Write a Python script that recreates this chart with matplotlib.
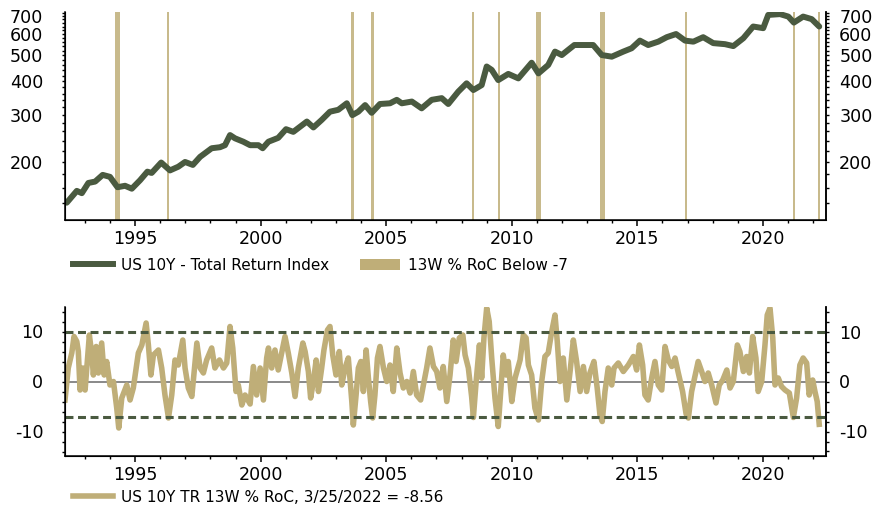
import matplotlib.pyplot as plt
from matplotlib.lines import Line2D
from matplotlib.patches import Patch
from matplotlib.ticker import FixedLocator, MultipleLocator, NullFormatter, FormatStrFormatter

plt.rcParams['font.family'] = ['DejaVu Sans']

GREEN = '#4a5a40'
TAN = '#bfae78'

# US 10Y total return index
tr_years = [1992.28, 1992.68, 1992.88, 1993.14, 1993.41, 1993.71, 1994.00, 1994.30, 1994.60, 1994.87,
            1995.20, 1995.49, 1995.66, 1996.04, 1996.39, 1996.72, 1996.99, 1997.30, 1997.59, 1998.05,
            1998.38, 1998.58, 1998.78, 1998.98, 1999.31, 1999.58, 1999.91, 2000.08, 2000.31, 2000.70,
            2001.01, 2001.30, 2001.84, 2002.10, 2002.43, 2002.76, 2003.09, 2003.43, 2003.65, 2003.89,
            2004.16, 2004.42, 2004.75, 2005.15, 2005.42, 2005.62, 2006.02, 2006.41, 2006.81, 2007.21,
            2007.47, 2007.87, 2008.20, 2008.47, 2008.80, 2009.00, 2009.20, 2009.46, 2009.86, 2010.26,
            2010.79, 2011.06, 2011.45, 2011.72, 2011.99, 2012.25, 2012.49, 2012.72, 2013.24, 2013.58,
            2013.98, 2014.44, 2014.77, 2015.10, 2015.43, 2015.83, 2016.17, 2016.54, 2016.90, 2017.23,
            2017.62, 2018.02, 2018.49, 2018.82, 2019.22, 2019.61, 2020.01, 2020.21, 2020.68, 2021.01,
            2021.23, 2021.60, 2021.94, 2022.24]
tr_values = [141, 156, 153, 167, 169, 179, 176, 161, 163, 159,
             171, 184, 182, 199, 186, 192, 200, 195, 209, 225,
             227, 231, 252, 245, 238, 231, 231, 225, 238, 246,
             265, 259, 283, 269, 287, 308, 313, 331, 299, 308,
             326, 305, 329, 331, 341, 331, 336, 317, 341, 346,
             329, 366, 393, 371, 387, 454, 441, 404, 426, 410,
             469, 428, 460, 516, 501, 524, 546, 546, 546, 501,
             494, 516, 531, 567, 546, 562, 584, 600, 567, 562,
             584, 555, 550, 541, 579, 640, 631, 707, 712, 697,
             662, 697, 682, 640]

# periods where the 13W % RoC is below -7
span_starts = [1994.20, 1996.29, 2003.60, 2004.39, 2008.43, 2009.44, 2010.98, 2013.51, 2016.91, 2021.18, 2022.20]
span_ends = [1994.38, 1996.37, 2003.73, 2004.50, 2008.51, 2009.54, 2011.16, 2013.71, 2016.99, 2021.26, 2022.27]

# 13W % rate of change
roc_years = [1992.21, 1992.34, 1992.48, 1992.57, 1992.68, 1992.74, 1992.81, 1992.92, 1993.01, 1993.18,
             1993.28, 1993.34, 1993.45, 1993.54, 1993.67, 1993.77, 1993.87, 1994.00, 1994.14, 1994.27,
             1994.35, 1994.47, 1994.67, 1994.80, 1994.93, 1995.13, 1995.27, 1995.44, 1995.53, 1995.63,
             1995.73, 1995.93, 1996.06, 1996.19, 1996.33, 1996.46, 1996.59, 1996.72, 1996.90, 1996.99,
             1997.12, 1997.26, 1997.46, 1997.59, 1997.72, 1997.85, 1998.05, 1998.18, 1998.36, 1998.52,
             1998.65, 1998.78, 1998.89, 1999.02, 1999.11, 1999.25, 1999.38, 1999.58, 1999.71, 1999.84,
             1999.98, 2000.11, 2000.24, 2000.31, 2000.44, 2000.57, 2000.70, 2000.88, 2000.97, 2001.10,
             2001.24, 2001.37, 2001.50, 2001.68, 2001.77, 2001.90, 2001.99, 2002.10, 2002.21, 2002.30,
             2002.43, 2002.52, 2002.66, 2002.76, 2002.87, 2003.00, 2003.13, 2003.23, 2003.36, 2003.49,
             2003.63, 2003.69, 2003.80, 2003.89, 2003.99, 2004.09, 2004.20, 2004.29, 2004.38, 2004.46,
             2004.55, 2004.65, 2004.75, 2004.89, 2005.02, 2005.15, 2005.28, 2005.42, 2005.55, 2005.68,
             2005.82, 2005.95, 2006.08, 2006.21, 2006.37, 2006.48, 2006.61, 2006.74, 2006.88, 2007.01,
             2007.14, 2007.27, 2007.41, 2007.54, 2007.67, 2007.78, 2007.91, 2008.05, 2008.14, 2008.27,
             2008.40, 2008.47, 2008.58, 2008.71, 2008.80, 2008.89, 2009.00, 2009.10, 2009.20, 2009.33,
             2009.46, 2009.57, 2009.66, 2009.77, 2009.86, 2010.00, 2010.13, 2010.33, 2010.46, 2010.57,
             2010.66, 2010.79, 2010.92, 2011.06, 2011.19, 2011.32, 2011.45, 2011.59, 2011.72, 2011.81,
             2011.92, 2012.05, 2012.19, 2012.32, 2012.45, 2012.58, 2012.72, 2012.85, 2012.98, 2013.11,
             2013.27, 2013.40, 2013.51, 2013.60, 2013.71, 2013.84, 2013.98, 2014.07, 2014.24, 2014.44,
             2014.64, 2014.84, 2014.97, 2015.08, 2015.21, 2015.30, 2015.43, 2015.57, 2015.70, 2015.83,
             2015.97, 2016.10, 2016.23, 2016.37, 2016.50, 2016.63, 2016.80, 2016.94, 2017.03, 2017.16,
             2017.29, 2017.42, 2017.56, 2017.69, 2017.82, 2017.96, 2018.13, 2018.26, 2018.40, 2018.56,
             2018.69, 2018.82, 2018.98, 2019.08, 2019.22, 2019.35, 2019.46, 2019.59, 2019.72, 2019.81,
             2019.95, 2020.08, 2020.17, 2020.28, 2020.39, 2020.48, 2020.61, 2020.74, 2020.88, 2021.05,
             2021.21, 2021.34, 2021.47, 2021.60, 2021.74, 2021.84, 2021.98, 2022.07, 2022.16, 2022.24]
roc_values = [-3.7, 2.7, 5.7, 9.0, 8.0, 6.0, -1.7, 2.7, -1.7, 9.3,
              5.3, 1.3, 7.0, 1.7, 7.7, 1.3, 4.0, -0.7, 0.0, -5.3,
              -9.3, -3.3, -0.7, -3.7, -1.3, 5.7, 7.3, 11.7, 7.3, 1.3,
              5.3, 6.3, 2.7, -2.7, -7.3, -2.7, 4.3, 3.3, 8.3, 2.7,
              -1.3, -3.0, 7.7, 2.7, 1.7, 4.3, 6.7, 2.7, 4.3, 2.7,
              3.7, 11.0, 6.7, -2.0, -0.7, -4.7, -2.7, -4.5, 3.0, -2.7,
              2.7, -3.7, 4.7, 6.7, 2.7, 6.3, 2.3, 6.7, 9.0, 5.7,
              1.7, -3.0, 2.7, 7.7, 6.0, 2.0, -3.3, 0.0, 4.3, -2.0,
              2.7, 6.3, 10.3, 11.0, 5.3, 1.3, 6.0, -0.7, 2.7, 4.7,
              -4.0, -8.7, -2.7, 2.7, 4.0, -2.0, 6.3, 0.7, -4.0, -7.3,
              -2.7, 4.7, 7.0, 2.7, 0.0, 3.3, -2.0, 6.7, 1.7, -1.3,
              0.0, -2.3, 2.0, -2.7, -3.7, -0.7, 2.7, 6.7, 3.0, 2.0,
              -1.3, 3.0, -4.0, 1.3, 8.3, 4.0, 8.7, 9.3, 5.3, 2.7,
              -3.0, -7.2, 0.0, 7.3, 0.7, 8.7, 14.7, 12.0, 4.7, -3.3,
              -9.0, -1.3, 5.3, 1.3, 4.0, -4.0, 0.7, 4.3, 9.3, 8.7,
              3.3, 1.3, -5.3, -7.7, 0.0, 5.0, 5.7, 10.0, 13.3, 8.0,
              0.0, 4.7, -3.7, 2.0, 8.3, 4.0, -2.0, 3.0, -2.0, 1.7,
              4.0, -1.3, -6.7, -8.0, -2.0, 2.7, -0.7, 2.7, 3.7, 2.0,
              3.3, 5.0, 2.3, 7.3, 3.3, -2.7, -3.7, 0.7, 4.0, -0.7,
              -1.7, 7.0, 4.3, 3.0, 4.7, 1.7, -2.0, -6.5, -7.3, -2.0,
              1.0, 4.0, 2.0, 0.0, 1.7, -0.7, -4.3, -0.7, 0.3, 2.3,
              -1.3, 0.0, 7.3, 6.0, 2.0, 5.0, 1.7, 9.0, 4.7, -2.0,
              0.0, 7.3, 13.3, 14.7, 8.7, -0.7, 0.7, -1.0, -1.7, -2.3,
              -7.2, -3.3, 3.3, 4.7, 3.7, -2.7, 0.3, -2.0, -4.0, -8.56]

upper_band = 10
lower_band = -7

W, H = 887, 508
fig = plt.figure(figsize=(W / 100, H / 100), dpi=100)
ax1 = fig.add_axes([65 / W, 1 - 220 / H, 761 / W, 208 / H])
ax2 = fig.add_axes([65 / W, 1 - 456 / H, 761 / W, 149 / H])

TICK_FS = 12.6


def style_axes(ax):
    ax.set_xlim(1992.21, 2022.51)
    ax.spines['top'].set_visible(False)
    for s in ['left', 'right', 'bottom']:
        ax.spines[s].set_linewidth(1.1)
    ax.xaxis.set_major_locator(MultipleLocator(5))
    ax.xaxis.set_minor_locator(MultipleLocator(1))
    ax.xaxis.set_major_formatter(FormatStrFormatter('%d'))
    ax.tick_params(axis='x', which='major', length=4, width=1.1, pad=3.5, labelsize=TICK_FS)
    ax.tick_params(axis='x', which='minor', length=2.5, width=1)
    ax.tick_params(axis='y', which='major', length=2.5, width=1, pad=13, labelsize=TICK_FS)
    ax.tick_params(axis='y', which='minor', length=2.5, width=1)


def right_copy(ax):
    axr = ax.twinx()
    axr.set_yscale(ax.get_yscale())
    axr.set_ylim(ax.get_ylim())
    axr.yaxis.set_major_locator(FixedLocator(ax.yaxis.get_majorticklocs()))
    axr.yaxis.set_minor_locator(FixedLocator(ax.yaxis.get_minorticklocs()))
    axr.yaxis.set_major_formatter(ax.yaxis.get_major_formatter())
    axr.yaxis.set_minor_formatter(NullFormatter())
    axr.spines['top'].set_visible(False)
    axr.spines['right'].set_linewidth(1.1)
    axr.tick_params(axis='y', which='major', length=2.5, width=1, pad=7, labelsize=TICK_FS)
    axr.tick_params(axis='y', which='minor', length=2.5, width=1)
    return axr


# top panel
for s, e in zip(span_starts, span_ends):
    ax1.axvspan(s, e, color=TAN, alpha=0.85, lw=0, zorder=1)
ax1.plot(tr_years, tr_values, color=GREEN, lw=4.3, zorder=3, solid_capstyle='round')
ax1.set_yscale('log')
ax1.set_ylim(121.5, 725)
ax1.yaxis.set_major_locator(FixedLocator([200, 300, 400, 500, 600, 700]))
ax1.yaxis.set_major_formatter(FormatStrFormatter('%d'))
ax1.yaxis.set_minor_locator(FixedLocator([v for v in range(140, 721, 20) if v % 100 != 0]))
ax1.yaxis.set_minor_formatter(NullFormatter())
style_axes(ax1)
right_copy(ax1)

# bottom panel
ax2.axhline(0, color='#808080', lw=1.3, zorder=1)
ax2.plot(roc_years, roc_values, color=TAN, lw=4.0, zorder=2)
ax2.axhline(upper_band, color=GREEN, lw=2.2, ls=(0, (2.6, 1.5)), zorder=3)
ax2.axhline(lower_band, color=GREEN, lw=2.2, ls=(0, (2.6, 1.5)), zorder=3)
ax2.set_ylim(-14.9, 14.9)
ax2.yaxis.set_major_locator(FixedLocator([-10, 0, 10]))
ax2.yaxis.set_major_formatter(FormatStrFormatter('%d'))
ax2.yaxis.set_minor_locator(FixedLocator([v for v in range(-14, 15, 2) if v % 10 != 0]))
ax2.yaxis.set_minor_formatter(NullFormatter())
style_axes(ax2)
right_copy(ax2)

# legends
leg_kw = dict(loc='center left', frameon=False, fontsize=11, handlelength=2.6,
              handletextpad=0.55, borderpad=0, borderaxespad=0)
fig.legend([Line2D([], [], color=GREEN, lw=4.3), Patch(facecolor=TAN, edgecolor='none')],
           ['US 10Y - Total Return Index', '13W % RoC Below -7'],
           bbox_to_anchor=(73 / W, 1 - 265 / H), ncol=2, columnspacing=2.0, **leg_kw)
fig.legend([Line2D([], [], color=TAN, lw=4.0)],
           ['US 10Y TR 13W % RoC, 3/25/2022 = -8.56'],
           bbox_to_anchor=(73 / W, 1 - 497 / H), **leg_kw)

fig.savefig('out.png', dpi=100)
